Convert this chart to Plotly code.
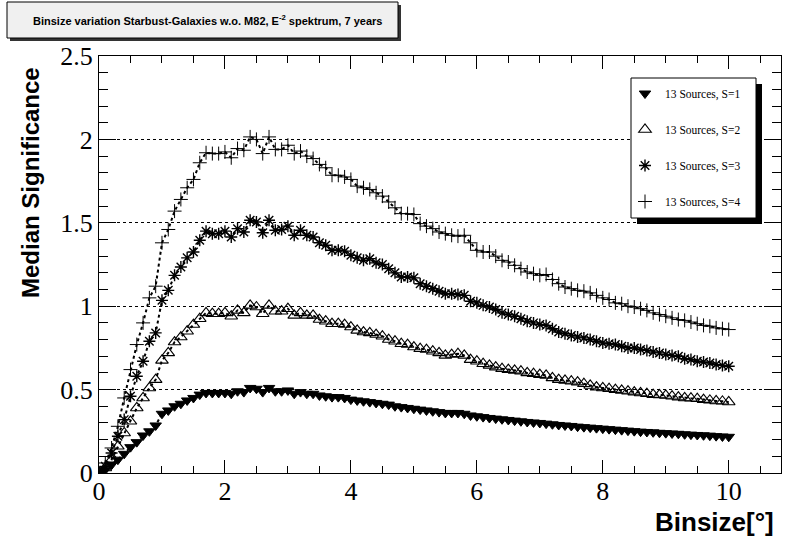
import plotly.graph_objects as go

# Bin sizes in degrees
binsize = [0.0, 0.1, 0.2, 0.3, 0.4, 0.5, 0.6, 0.7, 0.8, 0.9,
           1.0, 1.1, 1.2, 1.3, 1.4, 1.5, 1.6, 1.7, 1.8, 1.9,
           2.0, 2.1, 2.2, 2.3, 2.4, 2.5, 2.6, 2.7, 2.8, 2.9,
           3.0, 3.1, 3.2, 3.3, 3.4, 3.5, 3.6, 3.7, 3.8, 3.9,
           4.0, 4.1, 4.2, 4.3, 4.4, 4.5, 4.6, 4.7, 4.8, 4.9,
           5.0, 5.1, 5.2, 5.3, 5.4, 5.5, 5.6, 5.7, 5.8, 5.9,
           6.0, 6.1, 6.2, 6.3, 6.4, 6.5, 6.6, 6.7, 6.8, 6.9,
           7.0, 7.1, 7.2, 7.3, 7.4, 7.5, 7.6, 7.7, 7.8, 7.9,
           8.0, 8.1, 8.2, 8.3, 8.4, 8.5, 8.6, 8.7, 8.8, 8.9,
           9.0, 9.1, 9.2, 9.3, 9.4, 9.5, 9.6, 9.7, 9.8, 9.9,
           10.0]

# Median significance, 13 sources, S=1
sig_s1 = [0.000, 0.020, 0.050, 0.080, 0.115, 0.155, 0.185, 0.225, 0.250, 0.285,
          0.355, 0.375, 0.400, 0.415, 0.435, 0.450, 0.470, 0.480, 0.480, 0.480,
          0.480, 0.475, 0.490, 0.485, 0.510, 0.505, 0.485, 0.510, 0.490, 0.490,
          0.495, 0.475, 0.485, 0.475, 0.475, 0.465, 0.460, 0.455, 0.455, 0.450,
          0.440, 0.435, 0.430, 0.425, 0.420, 0.415, 0.410, 0.400, 0.395, 0.390,
          0.385, 0.380, 0.375, 0.370, 0.365, 0.360, 0.360, 0.360, 0.355, 0.345,
          0.340, 0.335, 0.330, 0.326, 0.322, 0.318, 0.314, 0.310, 0.306, 0.303,
          0.300, 0.296, 0.292, 0.288, 0.285, 0.282, 0.278, 0.275, 0.272, 0.269,
          0.266, 0.263, 0.260, 0.257, 0.254, 0.251, 0.248, 0.246, 0.244, 0.241,
          0.239, 0.237, 0.235, 0.232, 0.230, 0.228, 0.226, 0.224, 0.221, 0.219,
          0.217]

# S=2
sig_s2 = [0.000, 0.030, 0.080, 0.160, 0.240, 0.310, 0.390, 0.450, 0.510, 0.560,
          0.675, 0.720, 0.785, 0.815, 0.850, 0.890, 0.925, 0.960, 0.955, 0.955,
          0.960, 0.940, 0.975, 0.960, 1.005, 0.995, 0.955, 1.005, 0.970, 0.970,
          0.985, 0.945, 0.960, 0.945, 0.945, 0.920, 0.910, 0.895, 0.895, 0.890,
          0.875, 0.855, 0.845, 0.840, 0.830, 0.820, 0.800, 0.790, 0.775, 0.770,
          0.755, 0.745, 0.740, 0.730, 0.720, 0.705, 0.710, 0.715, 0.705, 0.680,
          0.670, 0.655, 0.645, 0.635, 0.625, 0.620, 0.615, 0.610, 0.600, 0.595,
          0.590, 0.585, 0.570, 0.560, 0.555, 0.550, 0.545, 0.535, 0.525, 0.515,
          0.510, 0.505, 0.500, 0.495, 0.490, 0.485, 0.480, 0.475, 0.470, 0.468,
          0.465, 0.460, 0.455, 0.450, 0.448, 0.445, 0.440, 0.436, 0.432, 0.430,
          0.426]

# S=3
sig_s3 = [0.000, 0.040, 0.120, 0.220, 0.320, 0.460, 0.580, 0.670, 0.790, 0.840,
          1.035, 1.095, 1.185, 1.235, 1.290, 1.325, 1.395, 1.450, 1.435, 1.435,
          1.450, 1.415, 1.465, 1.445, 1.515, 1.505, 1.440, 1.515, 1.455, 1.460,
          1.480, 1.425, 1.455, 1.425, 1.415, 1.380, 1.365, 1.335, 1.335, 1.330,
          1.305, 1.290, 1.275, 1.285, 1.260, 1.250, 1.225, 1.200, 1.175, 1.175,
          1.170, 1.135, 1.120, 1.105, 1.090, 1.075, 1.075, 1.070, 1.065, 1.030,
          1.020, 1.005, 0.995, 0.980, 0.960, 0.950, 0.940, 0.925, 0.910, 0.900,
          0.890, 0.885, 0.865, 0.845, 0.835, 0.825, 0.815, 0.810, 0.800, 0.790,
          0.780, 0.775, 0.770, 0.760, 0.750, 0.750, 0.740, 0.735, 0.725, 0.720,
          0.710, 0.705, 0.700, 0.685, 0.680, 0.670, 0.665, 0.660, 0.650, 0.645,
          0.640]

# S=4
sig_s4 = [0.000, 0.060, 0.150, 0.280, 0.450, 0.620, 0.770, 0.900, 1.050, 1.120,
          1.380, 1.460, 1.570, 1.640, 1.710, 1.760, 1.860, 1.920, 1.915, 1.915,
          1.925, 1.890, 1.945, 1.935, 2.015, 2.000, 1.915, 2.015, 1.940, 1.940,
          1.965, 1.915, 1.930, 1.900, 1.885, 1.850, 1.830, 1.785, 1.785, 1.775,
          1.760, 1.720, 1.710, 1.700, 1.680, 1.660, 1.625, 1.590, 1.555, 1.555,
          1.550, 1.495, 1.480, 1.465, 1.445, 1.435, 1.425, 1.420, 1.425, 1.380,
          1.335, 1.325, 1.325, 1.300, 1.275, 1.265, 1.245, 1.225, 1.205, 1.195,
          1.185, 1.190, 1.160, 1.135, 1.115, 1.105, 1.095, 1.090, 1.080, 1.065,
          1.050, 1.040, 1.020, 1.015, 1.000, 0.995, 0.985, 0.975, 0.960, 0.950,
          0.940, 0.930, 0.920, 0.915, 0.905, 0.895, 0.885, 0.880, 0.870, 0.865,
          0.860]

series_names = ["13 Sources, S=1", "13 Sources, S=2", "13 Sources, S=3", "13 Sources, S=4"]
series_values = [sig_s1, sig_s2, sig_s3, sig_s4]
symbols = ["triangle-down", "triangle-up-open", "asterisk-open", "cross-thin-open"]
sizes = [10, 11, 10, 10]
edge_widths = [1.0, 1.1, 1.4, 1.0]

W, H = 785, 544
ML, MR, MT, MB = 99, 4, 56, 71
PW, PH = W - ML - MR, H - MT - MB
SERIF = "Liberation Serif"
SANS = "Liberation Sans"

fig = go.Figure()

# data: dotted connecting line + markers
for name, vals, sym, sz, ew in zip(series_names, series_values, symbols, sizes, edge_widths):
    fig.add_trace(go.Scatter(
        x=binsize, y=vals, mode="lines+markers", name=name, showlegend=False,
        line=dict(color="black", width=2, dash="dot"),
        marker=dict(symbol=sym, size=sz, color="black",
                    line=dict(color="black", width=ew)),
    ))

# legend entries (markers only)
for i, (name, sym, sz, ew) in enumerate(zip(series_names, symbols, sizes, edge_widths)):
    fig.add_trace(go.Scatter(
        x=[None], y=[None], mode="markers", name=name, legendgroup=str(i),
        marker=dict(symbol=sym, size=sz, color="black",
                    line=dict(color="black", width=ew)),
    ))


def px(x, y):
    # figure pixels -> plot-area paper coords
    return (x - ML) / PW, 1 - (y - MT) / PH


def box(xa, ya, xb, yb, **kw):
    x0, y0 = px(xa, ya)
    x1, y1 = px(xb, yb)
    return dict(type="rect", xref="paper", yref="paper", x0=x0, y0=y0, x1=x1, y1=y1,
                layer="above", **kw)


shapes = [
    # title box with shadow
    box(10, 5, 401, 41, fillcolor="#333333", line=dict(width=0)),
    box(7, 2, 398, 38, fillcolor="#f0f0f0", line=dict(color="black", width=1)),
    # legend box with shadow
    box(637, 84, 762, 224, fillcolor="black", line=dict(width=0)),
    box(631, 78, 756, 218, fillcolor="white", line=dict(color="black", width=1)),
]

tx, ty = px(207, 20)
ax_x, ax_y = px(30, 183)
bx_x, bx_y = px(776, 522)
lg_x, lg_y = px(625, 79)

fig.update_layout(
    width=W, height=H,
    margin=dict(l=ML, r=MR, t=MT, b=MB),
    paper_bgcolor="white", plot_bgcolor="white",
    shapes=shapes,
    annotations=[
        dict(text="Binsize variation Starbust-Galaxies w.o. M82, E<sup>-2</sup> spektrum, 7 years",
             xref="paper", yref="paper", x=tx, y=ty, showarrow=False,
             xanchor="center", yanchor="middle",
             font=dict(family=SANS, size=11, color="black", weight="bold")),
        dict(text="Median Significance", xref="paper", yref="paper", x=ax_x, y=ax_y,
             showarrow=False, textangle=-90, xanchor="center", yanchor="middle",
             font=dict(family=SANS, size=24, color="black", weight="bold")),
        dict(text="Binsize[°]", xref="paper", yref="paper", x=bx_x, y=bx_y,
             showarrow=False, xanchor="right", yanchor="middle",
             font=dict(family=SANS, size=26, color="black", weight="bold")),
    ],
    legend=dict(x=lg_x, y=lg_y, xanchor="left", yanchor="top",
                bgcolor="rgba(0,0,0,0)", borderwidth=0,
                font=dict(family=SERIF, size=11.5, color="black"),
                traceorder="grouped", tracegroupgap=17),
    xaxis=dict(range=[0, 10.83], dtick=2, tick0=0, automargin=False,
               showline=True, linecolor="black", linewidth=1, mirror="allticks",
               ticks="inside", ticklen=13, tickcolor="black", tickwidth=1,
               minor=dict(dtick=0.5, ticks="inside", ticklen=7, tickcolor="black"),
               showgrid=False, zeroline=False, ticklabelstandoff=-5,
               tickfont=dict(family=SERIF, size=26, color="black")),
    yaxis=dict(range=[0, 2.5], dtick=0.5, tick0=0, automargin=False,
               showline=True, linecolor="black", linewidth=1, mirror="allticks",
               ticks="inside", ticklen=17, tickcolor="black", tickwidth=1,
               minor=dict(dtick=0.1, ticks="inside", ticklen=9, tickcolor="black"),
               showgrid=True, gridcolor="black", gridwidth=1, griddash="dot",
               zeroline=False,
               tickfont=dict(family=SERIF, size=26, color="black")),
)

# drop the page's default body margin so the figure sits at the window origin
fig.write_html("out.html", config={"displayModeBar": False},
               post_script="document.body.style.margin = '0';")
